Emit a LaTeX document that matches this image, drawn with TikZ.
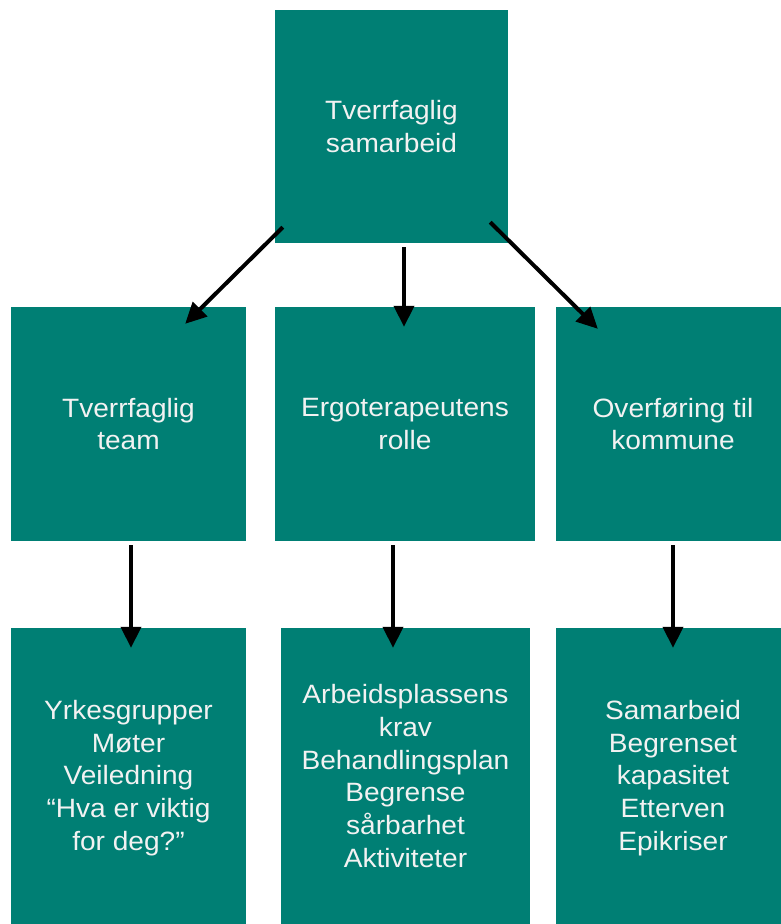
\documentclass[tikz,border=0pt]{standalone}
\usepackage{fontspec}
\setmainfont[FakeStretch=1.06]{Liberation Sans}
\usetikzlibrary{arrows.meta,calc}
\definecolor{teal}{RGB}{0,127,116}
\definecolor{txt}{RGB}{242,242,242}
\begin{document}
\begin{tikzpicture}[x=1pt,y=-1pt,
  box/.style={fill=teal,draw=none,text=txt,align=center,inner sep=0pt,
    font=\fontsize{26.5}{32.7}\selectfont},
  arr/.style={line width=4pt,-{Triangle[length=21pt,width=20pt]},black}]
\useasboundingbox (0,0) rectangle (781,924);
\node[box,minimum width=233pt,minimum height=233pt] (top) at (391.5,126.5) {Tverrfaglig\\samarbeid};
\node[box,minimum width=235pt,minimum height=234pt] (tl) at (128.5,424) {Tverrfaglig\\team};
\node[box,minimum width=260pt,minimum height=234pt] (tm) at (405,424) {Ergoterapeutens\\rolle};
\node[box,minimum width=234pt,minimum height=234pt] (tr) at (673,424) {Overføring til\\kommune};
\node[box,minimum width=235pt,minimum height=300pt] (bl) at (128.5,778) {Yrkesgrupper\\Møter\\Veiledning\\“Hva er viktig\\for deg?”};
\node[box,minimum width=249pt,minimum height=296pt] (bm) at (405.5,776) {Arbeidsplassens\\krav\\Behandlingsplan\\Begrense\\sårbarhet\\Aktiviteter};
\node[box,minimum width=234pt,minimum height=300pt] (br) at (673,778) {Samarbeid\\Begrenset\\kapasitet\\Etterven\\Epikriser};
\draw[arr] ($(top.south west)+(8,-16)$) -- ($(tl.north east)+(-61,17)$);
\draw[arr] ($(top.south)+(12.5,4)$) -- ($(tm.north)+(-1,20)$);
\draw[arr] ($(top.south east)+(-18,-21)$) -- ($(tr.north west)+(42,22)$);
\draw[arr] ($(tl.south)+(2.5,4)$) -- ($(bl.north)+(2.5,20)$);
\draw[arr] ($(tm.south)+(-12,4)$) -- ($(bm.north)+(-12.5,20)$);
\draw[arr] ($(tr.south)+(0,4)$) -- ($(br.north)+(0,20)$);
\end{tikzpicture}
\end{document}
